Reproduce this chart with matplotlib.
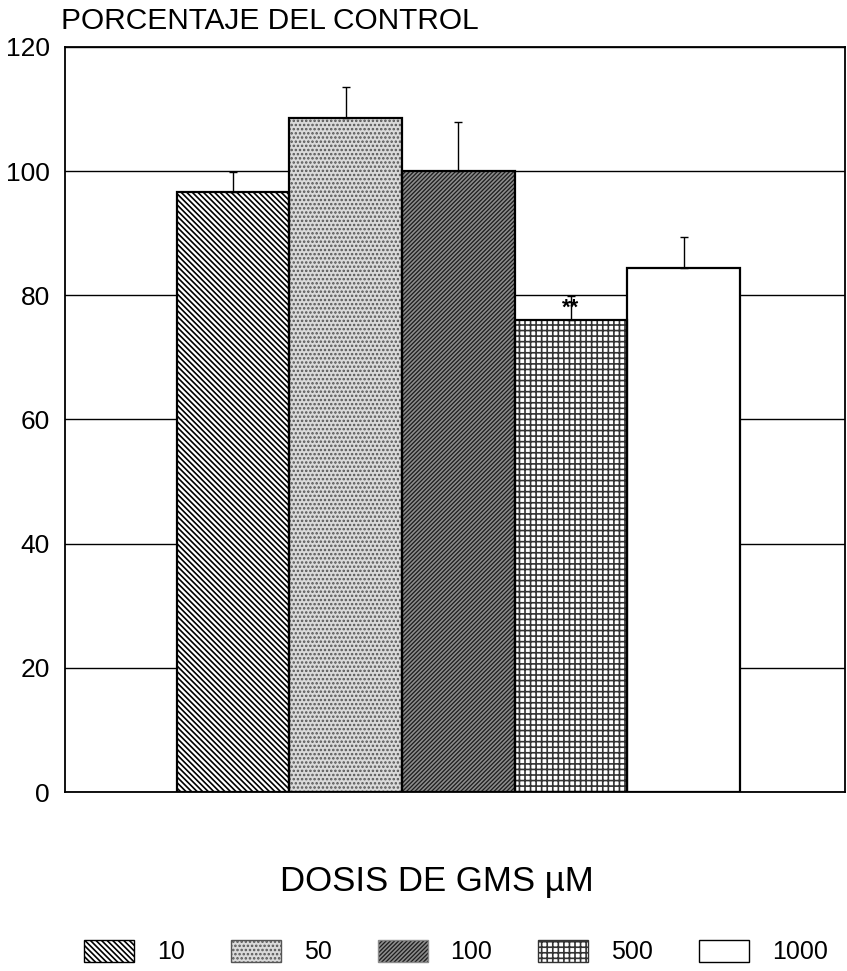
import matplotlib
matplotlib.use("Agg")
import matplotlib.pyplot as plt
from matplotlib.patches import Patch

plt.rcParams['font.family'] = ['Liberation Sans', 'DejaVu Sans']
plt.rcParams['hatch.linewidth'] = 1.2

# ---- data ----
doses = ["10", "50", "100", "500", "1000"]
values = [96.6, 108.5, 100.0, 76.0, 84.4]
errors = [3.2, 5.0, 7.9, 3.9, 5.0]
yticks = [0, 20, 40, 60, 80, 100, 120]

# ---- styles ----
faces = ["white", "#dadada", "#1c1c1c", "white", "white"]
hatch_cols = ["black", "#555555", "#8c8c8c", "#333333", "white"]
hatches = ["\\" * 6, "....", "/" * 8, "+++", ""]

fig = plt.figure(figsize=(8.47, 9.71), dpi=100)
ax = fig.add_axes([65 / 847, 1 - 792 / 971, 780 / 847, 745 / 971])

x = list(range(len(doses)))
for i in x:
    ax.bar(x[i], values[i], width=1.0, color=faces[i], edgecolor=hatch_cols[i],
           hatch=hatches[i], linewidth=0, zorder=2)
ax.bar(x, values, width=1.0, fill=False, edgecolor="black", linewidth=1.6, zorder=2.5)
ax.errorbar(x, values, yerr=[[0] * len(errors), errors], fmt="none", ecolor="black",
            elinewidth=1.0, capsize=3, capthick=1.0, zorder=3)

ax.text(3, 78.0, "**", ha="center", va="center", fontsize=16, fontweight="bold", zorder=4)

ax.set_xlim(-1.49, 5.43)
ax.set_ylim(0, 120)
ax.set_yticks(yticks)
ax.set_xticks([])
ax.yaxis.grid(True, color="black", linewidth=1.0)
ax.set_axisbelow(True)
ax.tick_params(axis="y", length=0, pad=11, labelsize=19)
for s in ax.spines.values():
    s.set_linewidth(1.3)

fig.text(61 / 847, 1 - 21 / 971, "PORCENTAJE DEL CONTROL", ha="left", va="center", fontsize=21.5)
fig.text(437 / 847, 1 - 882 / 971, "DOSIS DE GMS µM", ha="center", va="center", fontsize=25)

handles = [Patch(facecolor=faces[i], edgecolor=hatch_cols[i] if i != 4 else "black",
                 hatch=hatches[i], linewidth=1.0) for i in x]
leg = fig.legend(handles, doses, loc="center", bbox_to_anchor=(456 / 847, 1 - 952 / 971),
                 ncol=5, frameon=False, fontsize=18, handlelength=2.0, handleheight=1.0,
                 columnspacing=1.84, handletextpad=0.92, borderpad=0.1)

fig.savefig("out.png", dpi=100)
